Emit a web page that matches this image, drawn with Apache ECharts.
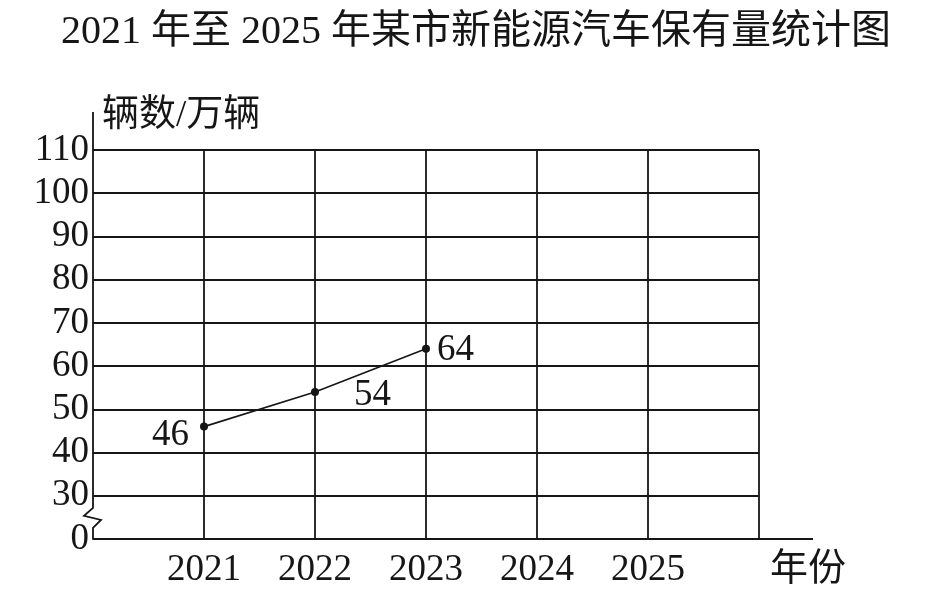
<!DOCTYPE html>
<html><head><meta charset="utf-8">
<script src="https://cdn.jsdelivr.net/npm/echarts@6/dist/echarts.min.js"></script>
<style>html,body{margin:0;padding:0;background:#fff}#c{width:931px;height:605px}</style>
</head><body><div id="c"></div>
<script>
const titleText = '2021 年至 2025 年某市新能源汽车保有量统计图';
const years = [2021, 2022, 2023, 2024, 2025];
const values = [46, 54, 64];
const yTicks = [20, 30, 40, 50, 60, 70, 80, 90, 100, 110];
const yBreakLabel = '0';
const yName = '辆数/万辆';
const xName = '年份';

const INK = '#161616';
const FONT = "'Liberation Serif', 'Times New Roman', 'Noto Sans CJK SC', serif";
const labelCfg = [
  {position: 'left', distance: 11, offset: [0, 9]},
  {position: 'right', distance: 35, offset: [0, 3]},
  {position: 'right', distance: 7, offset: [0, 1]}
];

const chart = echarts.init(document.getElementById('c'));
const yMin = yTicks[0], yMax = yTicks[yTicks.length - 1];
const xMin = years[0] - 1, xMax = years[years.length - 1] + 1;

chart.setOption({
  backgroundColor: '#fff',
  animation: false,
  title: {
    text: titleText, left: 56, top: 8,
    textStyle: {fontFamily: FONT, fontSize: 40, fontWeight: 'normal', color: INK}
  },
  grid: {left: 93, top: 150, right: 172, bottom: 66, containLabel: false},
  xAxis: {
    type: 'value', min: xMin, max: xMax, interval: 1,
    name: xName, nameLocation: 'end', nameGap: 11,
    nameTextStyle: {fontFamily: FONT, fontSize: 38, color: INK, verticalAlign: 'top', align: 'left', padding: [12, 0, 0, 0]},
    axisLine: {show: true, lineStyle: {color: INK, width: 1.8}},
    axisTick: {show: false},
    axisLabel: {
      margin: 13, fontFamily: FONT, fontSize: 37, color: INK,
      formatter: v => (years.indexOf(v) >= 0 ? String(v) : '')
    },
    splitLine: {show: true, showMinLine: false, lineStyle: {color: INK, width: 1.8}}
  },
  yAxis: {
    type: 'value', min: yMin, max: yMax, interval: 10,
    name: yName, nameLocation: 'end', nameGap: 34,
    nameTextStyle: {fontFamily: FONT, fontSize: 37, color: INK, align: 'left', verticalAlign: 'middle', padding: [0, 0, 0, 9]},
    axisLine: {show: false},
    axisTick: {show: false},
    axisLabel: {
      margin: 4, fontFamily: FONT, fontSize: 37, color: INK,
      formatter: v => (v === yMin ? yBreakLabel : String(v))
    },
    splitLine: {show: true, lineStyle: {color: INK, width: 1.8}}
  },
  series: [{
    type: 'line',
    data: values.map((v, i) => ({
      value: [years[i], v],
      label: Object.assign({show: true}, labelCfg[i])
    })),
    symbol: 'circle', symbolSize: 8,
    itemStyle: {color: INK},
    lineStyle: {color: INK, width: 1.6},
    label: {fontFamily: FONT, fontSize: 37, color: INK, formatter: p => String(p.value[1])},
    z: 5
  }]
});

function drawDecor() {
  const p0 = chart.convertToPixel({gridIndex: 0}, [xMin, yMin]);
  const pTop = chart.convertToPixel({gridIndex: 0}, [xMin, yMax]);
  const pRight = chart.convertToPixel({gridIndex: 0}, [xMax, yMin]);
  const x = p0[0], yb = p0[1];
  const step = (yb - pTop[1]) / ((yMax - yMin) / 10);
  const bTop = yb - step * 0.72, bBot = yb - step * 0.26;
  chart.setOption({
    graphic: [
      {
        type: 'polyline', z: 10,
        shape: {points: [
          [x, pTop[1] - 38], [x, bTop], [x - 9, bTop + 8], [x + 8, bTop + 12], [x, bBot], [x, yb]
        ]},
        style: {stroke: INK, lineWidth: 1.8, fill: null}
      },
      {
        type: 'line', z: 10,
        shape: {x1: pRight[0], y1: yb, x2: pRight[0] + 54, y2: yb},
        style: {stroke: INK, lineWidth: 1.8}
      }
    ]
  });
}
drawDecor();
</script>
</body></html>
